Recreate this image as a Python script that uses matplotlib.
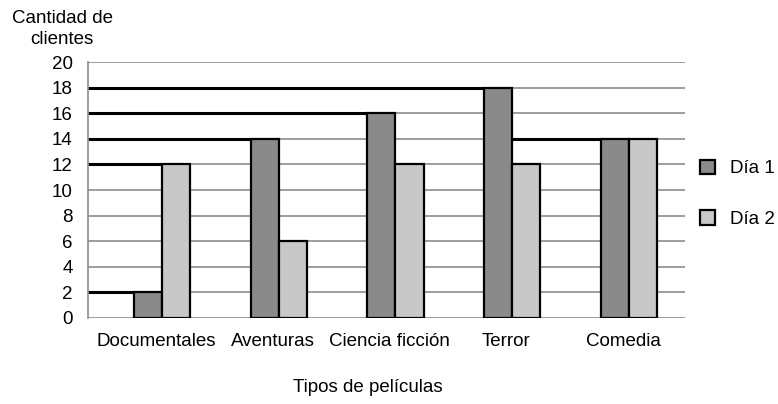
import matplotlib.pyplot as plt
import numpy as np

plt.rcParams['font.family'] = ['Liberation Sans', 'DejaVu Sans']

# datos
categorias = ["Documentales", "Aventuras", "Ciencia ficción", "Terror", "Comedia"]
dia1 = [2, 14, 16, 18, 14]
dia2 = [12, 6, 12, 12, 14]
series = ["Día 1", "Día 2"]

col1 = "#8a8a8a"
col2 = "#c8c8c8"
ancho = 0.24
fs = 13.5

fig = plt.figure(figsize=(7.78, 4.04), dpi=100)
ax = fig.add_axes([0.1131, 0.2129, 0.7674, 0.6336])

x = np.arange(len(categorias))
x1 = x - ancho / 2
x2 = x + ancho / 2

# lineas de cuadricula grises
for y in range(0, 21, 2):
    ax.axhline(y, color="#8c8c8c", lw=1.2, zorder=0)

b1 = ax.bar(x1, dia1, ancho, color=col1, edgecolor="black", lw=1.6, label=series[0], zorder=3)
b2 = ax.bar(x2, dia2, ancho, color=col2, edgecolor="black", lw=1.6, label=series[1], zorder=3)

# lineas negras gruesas: desde cada barra hacia la izquierda hasta una barra mas alta o el eje
xmin = -0.634
barras = []
for i in range(len(categorias)):
    barras.append((x1[i], dia1[i]))
    barras.append((x2[i], dia2[i]))
for k, (xc, h) in enumerate(barras):
    izq = xmin
    for xp, hp in barras[:k][::-1]:
        if hp >= h:
            izq = xp + ancho / 2
            break
    der = xc - ancho / 2
    if der > izq + 1e-6:
        ax.plot([izq, der], [h, h], color="black", lw=2.2, zorder=2, solid_capstyle="butt")

ax.set_xlim(xmin, 4.48)
ax.set_ylim(0, 20)
ax.set_yticks(range(0, 21, 2))
ax.set_xticks(x - 0.05)
ax.set_xticklabels(categorias)
ax.tick_params(axis="both", length=0, labelsize=fs)
ax.tick_params(axis="y", pad=11)
ax.tick_params(axis="x", pad=11)
for s in ["top", "right", "bottom"]:
    ax.spines[s].set_visible(False)
ax.spines["left"].set_color("#8c8c8c")
ax.spines["left"].set_linewidth(1.2)

fig.text(0.08, 0.928, "Cantidad de\nclientes", ha="center", va="center", fontsize=fs, linespacing=1.3)
fig.text(0.473, 0.04, "Tipos de películas", ha="center", va="center", fontsize=fs)

leg = ax.legend(handles=[b1, b2], loc="center left", bbox_to_anchor=(0.997, 0.485), frameon=False,
                fontsize=fs, handlelength=0.8, handleheight=0.8, labelspacing=1.75, handletextpad=0.8)

fig.savefig("out.png", dpi=100)
